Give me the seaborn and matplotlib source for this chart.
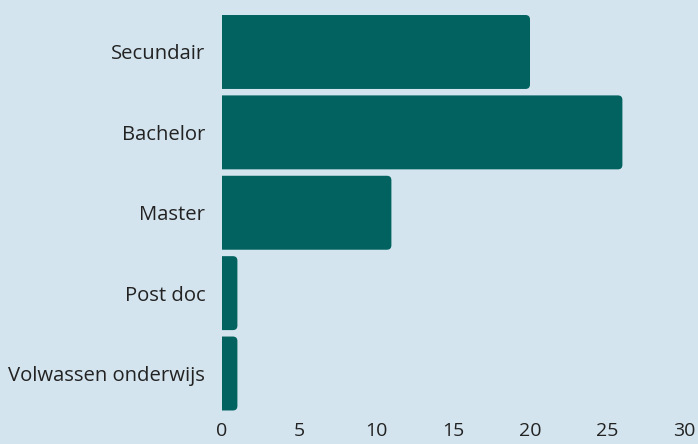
import matplotlib
matplotlib.use("Agg")
import matplotlib.pyplot as plt
import seaborn as sns
import pandas as pd
from matplotlib.patches import FancyBboxPatch

categories = ["Secundair", "Bachelor", "Master", "Post doc", "Volwassen onderwijs"]
values = [20, 26, 11, 1, 1]
xticks = [0, 5, 10, 15, 20, 25, 30]

BG = "#d3e4ee"
BAR = "#02625f"
TXT = "#222222"

sns.set_theme(style="white")
plt.rcParams["font.family"] = ["Open Sans", "DejaVu Sans"]

df = pd.DataFrame({"cat": categories, "val": values})

W, H, DPI = 698, 444, 100
fig = plt.figure(figsize=(W / DPI, H / DPI), dpi=DPI, facecolor=BG)
ax = fig.add_axes([222 / W, 1 - 413.7 / H, (684 - 222) / W, (413.7 - 11.8) / H])
ax.set_facecolor(BG)

sns.barplot(data=df, x="val", y="cat", orient="h", color=BAR, width=0.92,
            saturation=1, ax=ax)

ax.set_xlim(0, 30)
ax.set_ylim(4.5, -0.5)

# replace rectangles with right-rounded bars
px_per_x = (684 - 222) / 30
px_per_y = (413.7 - 11.8) / 5
r_px = 4.5
r = r_px / px_per_x
aspect = px_per_x / px_per_y
for p in list(ax.patches):
    x0, y0 = p.get_x(), p.get_y()
    w, h = p.get_width(), p.get_height()
    p.remove()
    fb = FancyBboxPatch((x0 - r * 2, y0), w + r * 2, h,
                        boxstyle=f"round,pad=0,rounding_size={r}",
                        mutation_aspect=aspect,
                        facecolor=BAR, edgecolor="none", clip_on=True)
    ax.add_patch(fb)

ax.set_xticks(xticks)
ax.set_xticklabels([str(t) for t in xticks])
ax.set_xlabel("")
ax.set_ylabel("")
for s in ax.spines.values():
    s.set_visible(False)
ax.tick_params(axis="both", length=0, colors=TXT)
ax.tick_params(axis="y", pad=12, labelsize=14.6)
ax.tick_params(axis="x", pad=6, labelsize=14)
ax.grid(False)

fig.savefig("out.png", dpi=DPI, facecolor=BG)
